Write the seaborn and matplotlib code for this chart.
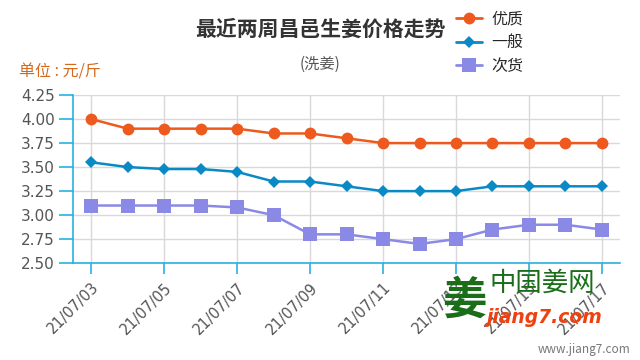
import numpy as np
import pandas as pd
import seaborn as sns
import matplotlib.pyplot as plt

dates = ['21/07/03', '21/07/04', '21/07/05', '21/07/06', '21/07/07', '21/07/08',
         '21/07/09', '21/07/10', '21/07/11', '21/07/12', '21/07/13', '21/07/14',
         '21/07/15', '21/07/16', '21/07/17']
youzhi = [4.00, 3.90, 3.90, 3.90, 3.90, 3.85, 3.85, 3.80, 3.75, 3.75, 3.75, 3.75, 3.75, 3.75, 3.75]
yiban = [3.55, 3.50, 3.48, 3.48, 3.45, 3.35, 3.35, 3.30, 3.25, 3.25, 3.25, 3.30, 3.30, 3.30, 3.30]
cihuo = [3.10, 3.10, 3.10, 3.10, 3.08, 3.00, 2.80, 2.80, 2.75, 2.70, 2.75, 2.85, 2.90, 2.90, 2.85]
series = ['优质', '一般', '次货']
colors = ['#ee5a1e', '#0a8ac4', '#8a8ae6']
yticks = [2.50, 2.75, 3.00, 3.25, 3.50, 3.75, 4.00, 4.25]

df = pd.DataFrame({'idx': list(range(len(dates))) * 3,
                   'price': youzhi + yiban + cihuo,
                   'grade': [s for s in series for _ in dates]})

sns.set_style('white')
plt.rcParams['font.family'] = ['Noto Sans CJK SC', 'DejaVu Sans']

fig = plt.figure(figsize=(6.4, 3.6), dpi=100)
ax = fig.add_axes([0.114, 0.269, 0.855, 0.467])

sns.lineplot(data=df, x='idx', y='price', hue='grade', hue_order=series,
             palette=colors, style='grade', style_order=series,
             markers={'优质': 'o', '一般': 'D', '次货': 's'}, dashes=False,
             markersize=8, markeredgewidth=0, linewidth=1.8, ax=ax, legend=False)
msizes = [8.5, 6.5, 9.5]
for line, ms in zip(ax.lines, msizes):
    line.set_markersize(ms)

ax.set_xlim(-0.5, len(dates) - 0.5)
ax.set_ylim(2.5, 4.25)
ax.set_yticks(yticks)
ax.set_yticklabels(['%.2f' % v for v in yticks], color='#555555', fontsize=11,
                   family='DejaVu Sans')
xt = list(range(0, len(dates), 2))
ax.set_xticks(xt)
ax.set_xticklabels([dates[i] for i in xt], rotation=45, ha='right', rotation_mode='anchor',
                   color='#555555', fontsize=10.5, family='DejaVu Sans')
ax.grid(True, color='#d9d9d9', linewidth=1)
ax.set_axisbelow(True)
ax.set_xlabel('')
ax.set_ylabel('')
for s in ['top', 'right']:
    ax.spines[s].set_visible(False)
for s in ['left', 'bottom']:
    ax.spines[s].set_color('#29b0e0')
    ax.spines[s].set_linewidth(1.2)
ax.tick_params(axis='both', colors='#29b0e0', length=8, width=1.2, left=True, bottom=True)
ax.tick_params(axis='x', labelcolor='#555555', pad=4)
ax.tick_params(axis='y', labelcolor='#555555', length=10, pad=3)

fig.text(0.5, 0.92, '最近两周昌邑生姜价格走势', ha='center', va='center',
         fontsize=15, fontweight='bold', color='#333333')
fig.text(0.5, 0.822, '(洗姜)', ha='center', va='center', fontsize=11, color='#555555')
fig.text(0.03, 0.80, '单位 : 元/斤', ha='left', va='center', fontsize=11.5, color='#d2691e')

handles = [plt.Line2D([], [], color=c, marker=m, markersize=ms, markeredgewidth=0, linewidth=2)
           for c, m, ms in zip(colors, ['o', 'D', 's'], msizes)]
fig.legend(handles, series, loc='upper left', bbox_to_anchor=(0.69, 1.01), frameon=False,
           fontsize=11.5, handlelength=1.6, handletextpad=0.6, labelspacing=0.4)

# watermark
fig.text(0.725, 0.165, '姜', ha='center', va='center', fontsize=32, fontweight='bold', color='#1a6e1a')
fig.text(0.765, 0.214, '中国姜网', ha='left', va='center', fontsize=19, color='#1a6e1a')
fig.text(0.76, 0.117, 'jiang7.com', ha='left', va='center', fontsize=13.5, fontweight='bold',
         style='italic', color='#f04010', family='DejaVu Sans')
fig.text(0.985, 0.028, 'www.jiang7.com', ha='right', va='center', fontsize=8.5, color='#777777')

fig.savefig('out.png', dpi=100)
